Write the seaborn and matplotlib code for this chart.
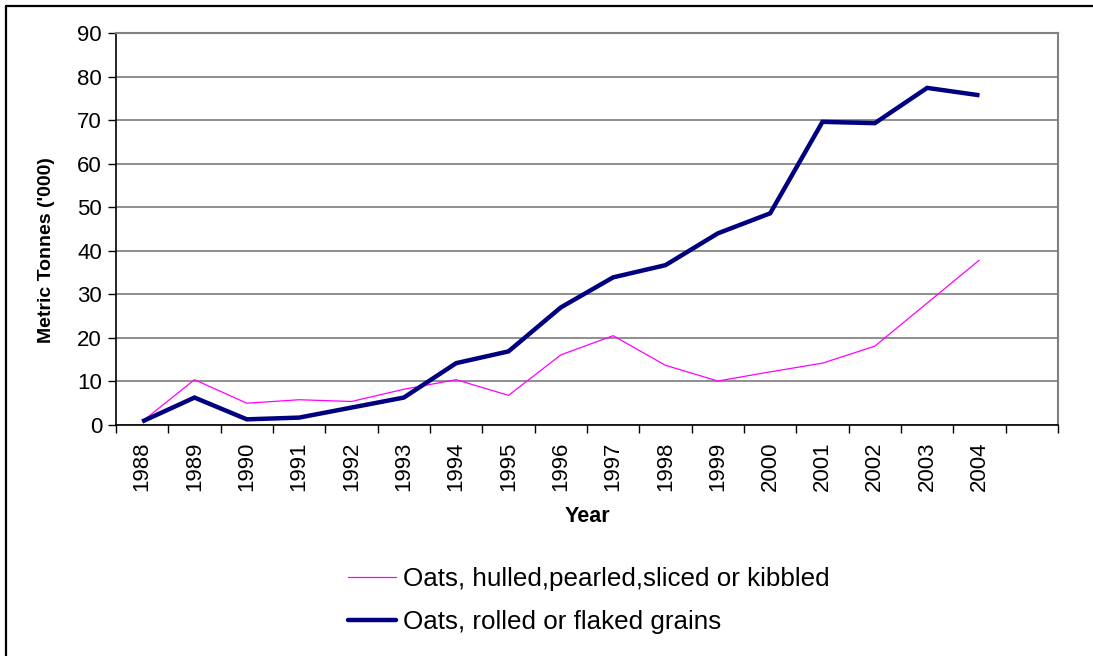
import matplotlib
matplotlib.use("Agg")
import matplotlib.pyplot as plt
from matplotlib.lines import Line2D
import numpy as np
import pandas as pd
import seaborn as sns

years = [1988, 1989, 1990, 1991, 1992, 1993, 1994, 1995, 1996,
         1997, 1998, 1999, 2000, 2001, 2002, 2003, 2004]
hulled = [0.8, 10.4, 5.0, 5.8, 5.4, 8.2, 10.4, 6.8, 16.1,
          20.5, 13.7, 10.1, 12.2, 14.2, 18.1, 28.0, 37.9]
rolled = [0.8, 6.3, 1.3, 1.7, 4.0, 6.3, 14.2, 16.9, 27.0,
          33.9, 36.7, 44.0, 48.6, 69.6, 69.3, 77.4, 75.7]
series_names = ["Oats, hulled,pearled,sliced or kibbled",
                "Oats, rolled or flaked grains"]
series_colors = ["#FF00FF", "#000080"]
series_widths = [0.9, 3.2]

sns.set_theme(style="white")
plt.rcParams["font.family"] = ["Liberation Sans", "DejaVu Sans"]
plt.rcParams["text.color"] = "black"
plt.rcParams["xtick.color"] = "black"
plt.rcParams["ytick.color"] = "black"

pos = np.arange(len(years))
df = pd.DataFrame({
    "pos": np.concatenate([pos, pos]),
    "value": hulled + rolled,
    "series": [series_names[0]] * len(years) + [series_names[1]] * len(years),
})

fig = plt.figure(figsize=(10.93, 6.56), dpi=100)
fig.patch.set_facecolor("white")
ax = fig.add_axes([116 / 1093, 1 - 425 / 656, (1058 - 116) / 1093, (425 - 33) / 656])

for name, color, lw in zip(series_names, series_colors, series_widths):
    sns.lineplot(data=df[df["series"] == name], x="pos", y="value", ax=ax,
                 color=color, linewidth=lw, legend=False,
                 solid_joinstyle="miter", solid_capstyle="butt")

ax.set_xlim(-0.5, len(years) + 0.5)
ax.set_ylim(0, 90)
ax.set_yticks(np.arange(0, 91, 10))
ax.yaxis.grid(True, color="#707070", linewidth=1.1)
ax.xaxis.grid(False)

ax.set_xticks(pos)
ax.set_xticklabels([str(y) for y in years], rotation=90, fontsize=16)
ax.set_xticks(np.arange(-0.5, len(years) + 1, 1.0), minor=True)
ax.tick_params(axis="x", which="major", length=0, pad=12, labelcolor="black")
ax.tick_params(axis="x", which="minor", length=6, width=1, color="black",
               direction="out", bottom=True)
ax.tick_params(axis="y", which="major", length=6, width=1, color="black",
               direction="out", left=True, labelsize=16, pad=4,
               labelcolor="black")

for side in ["left", "bottom"]:
    ax.spines[side].set_color("black")
    ax.spines[side].set_linewidth(1.2)
for side in ["top", "right"]:
    ax.spines[side].set_color("#808080")
    ax.spines[side].set_linewidth(1.5)

ax.set_xlabel("")
ax.set_ylabel("")
fig.text(47 / 1093, 1 - 250 / 656, "Metric Tonnes ('000)", rotation=90,
         ha="center", va="center", fontsize=14, fontweight="bold",
         color="black")
fig.text(587 / 1093, 1 - 516 / 656, "Year", ha="center", va="center",
         fontsize=15.5, fontweight="bold", color="black")

handles = [Line2D([], [], color=c, linewidth=w)
           for c, w in zip(series_colors, series_widths)]
fig.legend(handles, series_names, loc="upper left",
           bbox_to_anchor=(348 / 1093, 1 - 567 / 656), frameon=False,
           fontsize=18.7, handlelength=1.85, handletextpad=0.28,
           labelspacing=0.75, borderpad=0, borderaxespad=0,
           labelcolor="black")

# outer chart border (top and left edges)
fig.add_artist(Line2D([6 / 1093, 6 / 1093], [0, 1 - 6 / 656],
                      transform=fig.transFigure, color="black", linewidth=1.6))
fig.add_artist(Line2D([6 / 1093, 1], [1 - 6 / 656, 1 - 6 / 656],
                      transform=fig.transFigure, color="black", linewidth=1.6))

fig.savefig("out.png", dpi=100, facecolor="white")
